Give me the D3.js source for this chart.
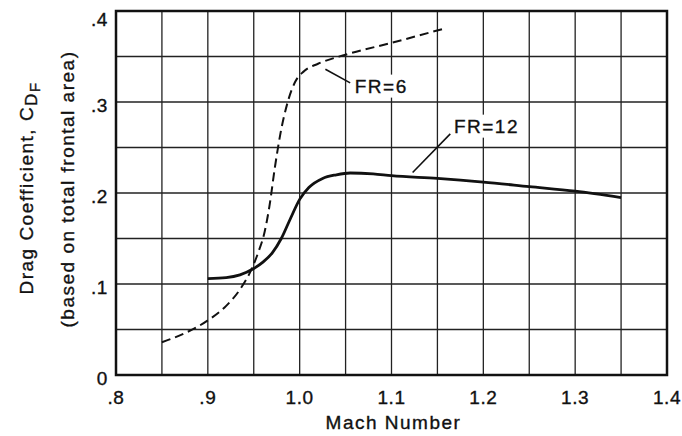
<!DOCTYPE html>
<html>
<head>
<meta charset="utf-8">
<script src="https://cdn.jsdelivr.net/npm/d3@7"></script>
<style>
  body { margin: 0; background: #fff; }
  text { font-family: "Liberation Sans", Arial, sans-serif; fill: #111; stroke: #111; stroke-width: 0.35px; letter-spacing: 1.5px; }
</style>
</head>
<body>
<svg id="chart" width="682" height="436"></svg>
<script>
// axis ticks and labels
const xTickVals = [0.8, 0.9, 1.0, 1.1, 1.2, 1.3, 1.4];
const xTickLabels = [".8", ".9", "1.0", "1.1", "1.2", "1.3", "1.4"];
const yTickVals = [0, 0.1, 0.2, 0.3, 0.4];
const yTickLabels = ["0", ".1", ".2", ".3", ".4"];

// FR=6 (dashed)
const fr6Mach = [0.85, 0.875, 0.9, 0.92, 0.935, 0.947, 0.955, 0.962, 0.967, 0.973, 0.979, 0.987, 0.995, 1.005, 1.02, 1.05, 1.1, 1.155];
const fr6Cd   = [0.036, 0.046, 0.060, 0.076, 0.094, 0.115, 0.135, 0.158, 0.185, 0.228, 0.265, 0.300, 0.322, 0.334, 0.342, 0.352, 0.365, 0.380];

// FR=12 (solid)
const fr12Mach = [0.9, 0.92, 0.935, 0.95, 0.96, 0.97, 0.98, 0.99, 1.0, 1.01, 1.025, 1.04, 1.055, 1.08, 1.1, 1.15, 1.2, 1.25, 1.3, 1.35];
const fr12Cd   = [0.106, 0.107, 0.110, 0.117, 0.124, 0.134, 0.150, 0.172, 0.193, 0.206, 0.216, 0.220, 0.222, 0.221, 0.219, 0.216, 0.212, 0.207, 0.202, 0.195];

const margin = { left: 116, right: 15, top: 11, bottom: 61 };
const W = 682, H = 436;

const svg = d3.select("#chart");

const x = d3.scaleLinear().domain([0.8, 1.4]).range([margin.left, W - margin.right]);
const y = d3.scaleLinear().domain([0, 0.4]).range([H - margin.bottom, margin.top]);

// grid every .05
const grid = svg.append("g");
grid.selectAll(".gx")
  .data(x.ticks(12))
  .enter().append("line")
  .attr("x1", d => x(d)).attr("x2", d => x(d))
  .attr("y1", y(0)).attr("y2", y(0.4))
  .attr("stroke", "#222").attr("stroke-width", 1.3);
grid.selectAll(".gy")
  .data(y.ticks(8))
  .enter().append("line")
  .attr("y1", d => y(d)).attr("y2", d => y(d))
  .attr("x1", x(0.8)).attr("x2", x(1.4))
  .attr("stroke", "#222").attr("stroke-width", 1.3);

// frame
svg.append("rect")
  .attr("x", x(0.8)).attr("y", y(0.4))
  .attr("width", x(1.4) - x(0.8)).attr("height", y(0) - y(0.4))
  .attr("fill", "none").attr("stroke", "#111").attr("stroke-width", 2.5);

// tick labels
svg.selectAll(".xl")
  .data(xTickVals)
  .enter().append("text")
  .attr("x", d => x(d))
  .attr("y", y(0) + 29)
  .attr("text-anchor", "middle")
  .style("font-size", "19px")
  .style("letter-spacing", "0.6px")
  .text((d, i) => xTickLabels[i]);

svg.selectAll(".yl")
  .data(yTickVals)
  .enter().append("text")
  .attr("x", x(0.8) - 8)
  .attr("y", d => Math.max(y(d) + 4, 20) + 6)
  .attr("text-anchor", "end")
  .style("font-size", "19px")
  .style("letter-spacing", "0.6px")
  .text((d, i) => yTickLabels[i]);

// axis titles
svg.append("text")
  .attr("x", (x(0.8) + x(1.4)) / 2 + 2)
  .attr("y", H - 7)
  .attr("text-anchor", "middle")
  .style("font-size", "19px")
  .text("Mach Number");

const t1 = svg.append("text")
  .attr("transform", "translate(33," + 188 + ") rotate(-90)")
  .attr("text-anchor", "middle")
  .style("font-size", "19px");
t1.append("tspan").text("Drag Coefficient, C");
t1.append("tspan").attr("dy", 4).style("font-size", "17px").text("D");
t1.append("tspan").attr("dy", 3).style("font-size", "15px").text("F");

svg.append("text")
  .attr("transform", "translate(74," + 189 + ") rotate(-90)")
  .attr("text-anchor", "middle")
  .style("font-size", "19px")
  .text("(based on total frontal area)");

// curves
const line = d3.line()
  .x(d => x(d[0]))
  .y(d => y(d[1]))
  .curve(d3.curveMonotoneX);

svg.append("path")
  .datum(d3.zip(fr6Mach, fr6Cd))
  .attr("d", line)
  .attr("fill", "none")
  .attr("stroke", "#111")
  .attr("stroke-width", 2)
  .attr("stroke-dasharray", "9,5");

svg.append("path")
  .datum(d3.zip(fr12Mach, fr12Cd))
  .attr("d", line)
  .attr("fill", "none")
  .attr("stroke", "#111")
  .attr("stroke-width", 2.8);

// curve labels with leaders
function label(txt, lx, ly, fromX, fromY, toX, toY) {
  const g = svg.append("g");
  const t = g.append("text")
    .attr("x", x(lx)).attr("y", y(ly) + 7)
    .style("font-size", "19px")
    .text(txt);
  const bb = t.node().getBBox();
  g.insert("rect", "text")
    .attr("x", bb.x - 2).attr("y", bb.y - 1)
    .attr("width", bb.width + 2).attr("height", bb.height + 2)
    .attr("fill", "#fff");
  svg.append("line")
    .attr("x1", x(fromX)).attr("y1", y(fromY))
    .attr("x2", x(toX)).attr("y2", y(toY))
    .attr("stroke", "#111").attr("stroke-width", 1.6);
}
label("FR=6", 1.06, 0.318, 1.028, 0.336, 1.055, 0.321);
label("FR=12", 1.168, 0.274, 1.123, 0.2225, 1.164, 0.265);
</script>
</body>
</html>
